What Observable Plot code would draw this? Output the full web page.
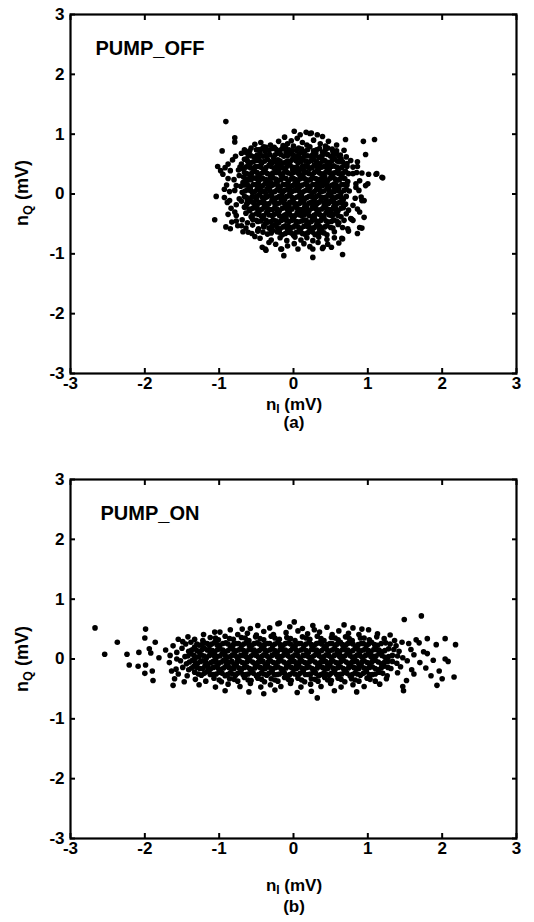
<!DOCTYPE html>
<html><head><meta charset="utf-8">
<script src="https://cdn.jsdelivr.net/npm/d3@7"></script>
<script src="https://cdn.jsdelivr.net/npm/@observablehq/plot@0.6"></script>
<style>
body{margin:0;background:#fff;font-family:"Liberation Sans",Arial,sans-serif;}
#wrap{position:relative;width:534px;height:922px;overflow:hidden;}
.pl{position:absolute;left:0;}
.lbl{position:absolute;font-weight:bold;color:#000;white-space:nowrap;transform:translate(-50%,-50%);line-height:1;}
.lbl sub{font-size:70%;vertical-align:-0.3em;line-height:0;}
.rot{transform:translate(-50%,-50%) rotate(-90deg);}
</style></head>
<body><div id="wrap"></div>
<script>
const xTicks = [-3, -2, -1, 0, 1, 2, 3];
const yTicks = [-3, -2, -1, 0, 1, 2, 3];
const panelNames = ["PUMP_OFF", "PUMP_ON"];
const panelTags = ["(a)", "(b)"];

// (nI, nQ) in mV
const pumpOff = [
[-0.91,1.21],[-0.79,0.94],[-0.79,0.87],[-0.96,0.72],[-1.04,-0.04],[-1.06,-0.43],[-0.93,0.08],[-0.91,-0.55],[-0.85,-0.58],
[-0.42,-0.89],[-0.38,-0.92],[-0.13,-1.03],[0.26,-1.06],[0.66,-1.01],[0.01,1.05],[0.17,1.03],[0.24,1.02],[0.32,0.99],
[0.39,0.96],[0.70,0.91],[0.94,0.88],[1.09,0.91],[0.97,0.66],[1.20,0.27],[1.11,0.33],[1.01,0.33],[0.92,0.35],[0.91,-0.05],
[0.92,-0.11],[0.95,-0.39],[0.92,-0.57],[0.78,-0.42],[0.65,-0.74],[0.61,-0.82],[0.51,-0.89],[0.40,-0.89],[0.06,-0.92],
[0.01,-0.83],[-0.17,-0.92],[-1.02,0.46],[-0.98,0.39],[-0.88,0.50],[-0.85,0.39],[-0.66,0.74],[-0.59,0.72],[-0.63,0.59],
[-0.72,0.45],[-0.70,0.50],[-0.80,0.24],[-0.77,0.14],[-0.79,0.06],[-0.86,-0.11],[-0.77,-0.18],[-0.79,-0.30],[-0.77,-0.36],
[-0.70,-0.53],[-0.68,-0.63],[-0.61,-0.64],[-0.77,-0.45],[-0.37,-0.94],[-0.16,-0.92],[-0.37,0.78],[-0.26,0.78],[-0.14,0.81],
[-0.03,0.89],[-0.48,-0.61],[-0.41,-0.64],[-0.28,-0.61],[0.22,1.01],[0.43,0.80],[0.53,0.71],[0.68,0.73],[0.64,0.59],
[0.77,0.56],[0.86,0.54],[0.80,0.45],[0.80,0.34],[1.12,0.34],[1.19,0.28],[1.00,0.17],[0.97,0.14],[0.84,0.11],[0.95,-0.11],
[0.80,-0.19],[0.86,-0.25],[0.89,-0.30],[0.77,-0.41],[0.80,-0.44],[0.89,-0.56],[0.86,-0.66],[0.66,-0.56],[0.73,-0.58],
[0.66,-0.75],[0.39,-0.91],[0.26,-0.92],[0.33,-0.81],
[-0.52,0.83],[-0.44,0.86],[-0.31,0.82],[-0.20,0.88],[-0.08,0.84],[0.05,0.93],[0.12,0.86],[0.27,0.90],[0.36,0.84],
[0.47,0.88],[0.58,0.82],[-0.12,0.95],[0.09,0.99],
[-0.57,0.77],[-0.47,0.74],[-0.38,0.71],[-0.29,0.76],[-0.18,0.73],[-0.11,0.78],[-0.02,0.72],[0.07,0.77],[0.15,0.71],
[0.22,0.79],[0.31,0.74],[0.39,0.70],[0.46,0.77],[0.58,0.72],[-0.65,0.70],[0.00,0.80],[0.18,0.82],[-0.40,0.79],
[-0.78,0.63],[-0.61,0.66],[-0.53,0.62],[-0.45,0.68],[-0.36,0.64],[-0.27,0.61],[-0.22,0.68],[-0.13,0.63],[-0.05,0.67],
[0.03,0.62],[0.10,0.69],[0.19,0.64],[0.26,0.66],[0.34,0.61],[0.41,0.67],[0.50,0.63],[0.57,0.68],[0.71,0.62],[-0.70,0.68],
[0.63,0.65],[-0.10,0.70],[0.30,0.69],
[-0.82,0.57],[-0.66,0.58],[-0.58,0.52],[-0.50,0.56],[-0.43,0.51],[-0.35,0.58],[-0.28,0.53],[-0.21,0.57],[-0.15,0.51],
[-0.08,0.55],[-0.01,0.59],[0.06,0.52],[0.13,0.57],[0.20,0.53],[0.27,0.58],[0.35,0.51],[0.42,0.56],[0.49,0.52],[0.55,0.59],
[0.62,0.54],[0.72,0.51],[-0.47,0.60],[0.09,0.60],[-0.31,0.50],[0.38,0.60],
[-0.92,0.44],[-0.68,0.42],[-0.61,0.48],[-0.55,0.43],[-0.47,0.46],[-0.40,0.41],[-0.33,0.48],[-0.26,0.43],[-0.19,0.47],
[-0.12,0.42],[-0.05,0.49],[0.02,0.44],[0.08,0.41],[0.15,0.47],[0.22,0.43],[0.28,0.49],[0.34,0.42],[0.41,0.46],[0.48,0.41],
[0.54,0.47],[0.61,0.43],[0.68,0.48],[0.86,0.46],[-0.74,0.40],[-0.01,0.40],[0.45,0.50],[-0.22,0.50],
[-0.95,0.33],[-0.73,0.31],[-0.66,0.36],[-0.59,0.32],[-0.52,0.38],[-0.45,0.33],[-0.38,0.37],[-0.31,0.31],[-0.24,0.36],
[-0.17,0.32],[-0.10,0.38],[-0.03,0.33],[0.04,0.37],[0.11,0.31],[0.18,0.36],[0.25,0.32],[0.31,0.38],[0.38,0.33],[0.44,0.37],
[0.51,0.31],[0.57,0.36],[0.64,0.32],[0.70,0.38],[0.85,0.36],[-0.48,0.29],[0.14,0.39],[-0.20,0.39],[0.60,0.39],
[-0.88,0.26],[-0.67,0.28],[-0.61,0.23],[-0.54,0.27],[-0.47,0.21],[-0.41,0.26],[-0.34,0.22],[-0.28,0.28],[-0.21,0.23],
[-0.14,0.27],[-0.07,0.21],[0.00,0.26],[0.06,0.22],[0.13,0.28],[0.20,0.23],[0.26,0.27],[0.33,0.21],[0.39,0.26],[0.46,0.22],
[0.53,0.28],[0.59,0.23],[0.66,0.27],[0.73,0.21],[0.89,0.22],[-0.58,0.29],[0.09,0.29],[0.42,0.29],[-0.31,0.20],
[-0.90,0.15],[-0.71,0.13],[-0.64,0.17],[-0.58,0.11],[-0.51,0.16],[-0.44,0.12],[-0.38,0.18],[-0.31,0.13],[-0.25,0.17],
[-0.18,0.11],[-0.11,0.16],[-0.04,0.12],[0.02,0.18],[0.09,0.13],[0.16,0.17],[0.22,0.11],[0.29,0.16],[0.35,0.12],[0.42,0.18],
[0.48,0.13],[0.55,0.17],[0.61,0.11],[0.68,0.16],[0.84,0.17],[-0.68,0.19],[0.05,0.10],[0.38,0.20],[-0.22,0.20],
[-0.86,0.04],[-0.69,0.03],[-0.62,0.07],[-0.55,0.02],[-0.49,0.08],[-0.42,0.04],[-0.35,0.09],[-0.29,0.03],[-0.22,0.07],
[-0.15,0.02],[-0.08,0.08],[-0.02,0.04],[0.05,0.09],[0.12,0.03],[0.18,0.07],[0.25,0.01],[0.31,0.08],[0.38,0.04],[0.45,0.09],
[0.51,0.03],[0.58,0.07],[0.64,0.02],[0.71,0.08],[0.88,0.06],[-0.37,0.00],[0.22,0.10],[-0.05,0.00],[0.55,0.10],
[-0.93,-0.06],[-0.73,-0.08],[-0.66,-0.04],[-0.59,-0.09],[-0.52,-0.05],[-0.46,-0.01],[-0.39,-0.07],[-0.32,-0.03],[-0.25,-0.08],
[-0.19,-0.04],[-0.12,-0.09],[-0.05,-0.02],[0.01,-0.07],[0.08,-0.03],[0.15,-0.08],[0.21,-0.04],[0.28,-0.09],[0.34,-0.02],
[0.41,-0.06],[0.47,-0.01],[0.54,-0.08],[0.60,-0.04],[0.67,-0.09],[0.83,-0.07],[-0.62,-0.10],[0.10,-0.10],[0.44,-0.10],[-0.16,-0.10],
[-0.89,-0.14],[-0.70,-0.12],[-0.63,-0.17],[-0.56,-0.13],[-0.49,-0.19],[-0.43,-0.14],[-0.36,-0.18],[-0.29,-0.11],[-0.22,-0.16],
[-0.15,-0.12],[-0.09,-0.18],[-0.02,-0.13],[0.04,-0.17],[0.11,-0.12],[0.18,-0.19],[0.24,-0.14],[0.31,-0.17],[0.37,-0.11],
[0.44,-0.16],[0.50,-0.12],[0.57,-0.18],[0.63,-0.13],[0.70,-0.17],[-0.50,-0.10],[0.26,-0.20],[-0.06,-0.20],
[-0.84,-0.24],[-0.66,-0.22],[-0.59,-0.28],[-0.52,-0.23],[-0.45,-0.27],[-0.39,-0.21],[-0.32,-0.26],[-0.25,-0.22],[-0.19,-0.28],
[-0.12,-0.23],[-0.05,-0.27],[0.02,-0.21],[0.08,-0.26],[0.15,-0.22],[0.21,-0.28],[0.28,-0.23],[0.34,-0.27],[0.41,-0.21],
[0.47,-0.26],[0.54,-0.22],[0.60,-0.28],[0.67,-0.23],[0.74,-0.27],[-0.35,-0.30],[0.12,-0.30],[0.50,-0.30],
[-0.88,-0.34],[-0.64,-0.32],[-0.57,-0.38],[-0.50,-0.33],[-0.43,-0.37],[-0.36,-0.31],[-0.29,-0.36],[-0.22,-0.32],[-0.16,-0.38],
[-0.09,-0.33],[-0.02,-0.37],[0.05,-0.31],[0.11,-0.36],[0.18,-0.32],[0.25,-0.38],[0.31,-0.33],[0.38,-0.37],[0.44,-0.31],
[0.51,-0.36],[0.57,-0.32],[0.64,-0.38],[0.71,-0.33],[-0.10,-0.40],[0.28,-0.40],
[-0.83,-0.47],[-0.69,-0.43],[-0.62,-0.48],[-0.55,-0.42],[-0.48,-0.46],[-0.41,-0.41],[-0.34,-0.47],[-0.27,-0.43],[-0.20,-0.48],
[-0.13,-0.42],[-0.06,-0.46],[0.00,-0.41],[0.07,-0.47],[0.14,-0.43],[0.21,-0.48],[0.27,-0.42],[0.34,-0.46],[0.41,-0.41],
[0.47,-0.47],[0.54,-0.43],[0.61,-0.48],[0.68,-0.44],[-0.38,-0.50],[0.18,-0.50],
[-0.75,-0.53],[-0.64,-0.57],[-0.55,-0.52],[-0.47,-0.58],[-0.40,-0.53],[-0.33,-0.57],[-0.25,-0.52],[-0.18,-0.58],[-0.11,-0.53],
[-0.04,-0.57],[0.03,-0.52],[0.10,-0.58],[0.17,-0.53],[0.24,-0.57],[0.31,-0.52],[0.38,-0.58],[0.45,-0.53],[0.53,-0.57],
[0.60,-0.51],[-0.08,-0.60],[0.35,-0.60],
[-0.56,-0.66],[-0.48,-0.62],[-0.35,-0.67],[-0.22,-0.63],[-0.15,-0.68],[-0.07,-0.64],[0.00,-0.69],[0.08,-0.63],[0.15,-0.67],
[0.22,-0.62],[0.29,-0.68],[0.37,-0.64],[0.45,-0.68],[0.55,-0.63],[0.74,-0.62],[-0.30,-0.61],
[-0.45,-0.74],[-0.30,-0.77],[-0.18,-0.73],[-0.09,-0.78],[0.02,-0.72],[0.10,-0.77],[0.18,-0.73],[0.26,-0.78],[0.34,-0.72],
[0.45,-0.76],[0.55,-0.73],[-0.52,-0.71],
[-0.24,-0.84],[-0.08,-0.87],[0.14,-0.83],[0.22,-0.88],[0.46,-0.84],[-0.33,-0.81],
// dense core of panel (a)
[-0.50,0.74],[-0.43,0.75],[-0.33,0.73],[-0.24,0.75],[-0.15,0.76],[-0.06,0.74],[0.04,0.73],[0.11,0.75],[0.19,0.74],[0.27,0.72],[0.35,0.76],[0.43,0.74],[0.52,0.75],
[-0.57,0.64],[-0.49,0.65],[-0.41,0.63],[-0.32,0.66],[-0.25,0.65],[-0.17,0.66],[-0.08,0.64],[0.00,0.65],[0.07,0.66],[0.15,0.64],[0.23,0.63],[0.30,0.65],[0.38,0.64],[0.46,0.66],[0.54,0.65],[0.61,0.63],
[-0.62,0.55],[-0.54,0.54],[-0.46,0.56],[-0.39,0.55],[-0.31,0.54],[-0.24,0.56],[-0.18,0.55],[-0.11,0.53],[-0.04,0.55],[0.03,0.56],[0.10,0.54],[0.17,0.55],[0.24,0.56],[0.31,0.54],[0.39,0.55],[0.46,0.53],[0.52,0.56],[0.59,0.55],[0.66,0.54],
[-0.64,0.45],[-0.58,0.44],[-0.51,0.46],[-0.44,0.45],[-0.37,0.44],[-0.30,0.46],[-0.23,0.45],[-0.16,0.44],[-0.09,0.46],[-0.02,0.45],[0.05,0.44],[0.12,0.46],[0.19,0.45],[0.25,0.44],[0.31,0.46],[0.38,0.45],[0.45,0.44],[0.51,0.46],[0.58,0.45],[0.65,0.44],[0.72,0.46],
[-0.63,0.34],[-0.56,0.35],[-0.49,0.36],[-0.42,0.35],[-0.35,0.34],[-0.28,0.35],[-0.21,0.36],[-0.14,0.34],[-0.07,0.35],[0.00,0.36],[0.07,0.34],[0.14,0.35],[0.21,0.34],[0.28,0.36],[0.35,0.35],[0.41,0.34],[0.48,0.36],[0.54,0.35],[0.61,0.34],[0.67,0.35],[0.74,0.34],
[-0.64,0.25],[-0.57,0.24],[-0.50,0.26],[-0.44,0.25],[-0.37,0.24],[-0.31,0.26],[-0.24,0.25],[-0.17,0.24],[-0.10,0.26],[-0.03,0.25],[0.03,0.24],[0.10,0.26],[0.16,0.25],[0.23,0.24],[0.30,0.26],[0.36,0.25],[0.43,0.24],[0.49,0.26],[0.56,0.25],[0.62,0.24],[0.69,0.26],
[-0.66,0.15],[-0.61,0.14],[-0.54,0.16],[-0.47,0.15],[-0.41,0.14],[-0.34,0.16],[-0.28,0.15],[-0.21,0.14],[-0.14,0.16],[-0.07,0.15],[-0.01,0.14],[0.06,0.16],[0.12,0.15],[0.19,0.14],[0.26,0.16],[0.32,0.15],[0.39,0.14],[0.45,0.16],[0.52,0.15],[0.58,0.14],[0.65,0.16],[0.72,0.15],
[-0.65,0.05],[-0.58,0.06],[-0.52,0.04],[-0.45,0.06],[-0.39,0.05],[-0.32,0.06],[-0.25,0.04],[-0.18,0.05],[-0.12,0.06],[-0.05,0.05],[0.02,0.06],[0.08,0.04],[0.15,0.05],[0.21,0.06],[0.28,0.04],[0.35,0.06],[0.41,0.05],[0.48,0.06],[0.55,0.04],[0.61,0.05],[0.68,0.06],[0.75,0.05],
[-0.63,-0.06],[-0.56,-0.05],[-0.49,-0.04],[-0.42,-0.06],[-0.36,-0.05],[-0.29,-0.04],[-0.22,-0.06],[-0.15,-0.05],[-0.09,-0.04],[-0.02,-0.06],[0.05,-0.05],[0.11,-0.04],[0.18,-0.06],[0.25,-0.05],[0.31,-0.04],[0.38,-0.06],[0.44,-0.05],[0.51,-0.04],[0.57,-0.06],[0.64,-0.05],[0.71,-0.04],
[-0.62,-0.15],[-0.53,-0.16],[-0.46,-0.14],[-0.39,-0.15],[-0.33,-0.16],[-0.26,-0.14],[-0.19,-0.15],[-0.12,-0.16],[-0.05,-0.14],[0.01,-0.15],[0.08,-0.16],[0.14,-0.14],[0.21,-0.15],[0.28,-0.16],[0.34,-0.14],[0.41,-0.15],[0.47,-0.16],[0.54,-0.14],[0.60,-0.15],[0.66,-0.16],
[-0.60,-0.25],[-0.55,-0.24],[-0.48,-0.26],[-0.42,-0.25],[-0.35,-0.24],[-0.28,-0.26],[-0.22,-0.25],[-0.15,-0.24],[-0.08,-0.26],[-0.02,-0.25],[0.05,-0.24],[0.12,-0.26],[0.18,-0.25],[0.25,-0.24],[0.31,-0.26],[0.38,-0.25],[0.44,-0.24],[0.51,-0.26],[0.57,-0.25],[0.64,-0.24],
[-0.55,-0.35],[-0.47,-0.34],[-0.40,-0.36],[-0.33,-0.35],[-0.26,-0.34],[-0.19,-0.36],[-0.12,-0.35],[-0.05,-0.34],[0.02,-0.36],[0.08,-0.35],[0.15,-0.34],[0.21,-0.36],[0.28,-0.35],[0.35,-0.34],[0.41,-0.36],[0.48,-0.35],[0.54,-0.34],[0.60,-0.36],
[-0.50,-0.44],[-0.44,-0.45],[-0.37,-0.44],[-0.30,-0.46],[-0.23,-0.45],[-0.16,-0.44],[-0.09,-0.45],[-0.02,-0.44],[0.04,-0.46],[0.11,-0.45],[0.17,-0.44],[0.24,-0.46],[0.31,-0.45],[0.37,-0.44],[0.44,-0.45],[0.51,-0.46],[0.58,-0.45],
[-0.40,-0.55],[-0.29,-0.54],[-0.22,-0.56],[-0.14,-0.55],[-0.07,-0.54],[0.00,-0.55],[0.07,-0.56],[0.14,-0.54],[0.20,-0.55],[0.28,-0.56],[0.35,-0.54],[0.42,-0.55],[0.50,-0.56],
[-0.30,-0.65],[-0.19,-0.64],[-0.11,-0.66],[-0.03,-0.65],[0.04,-0.64],[0.12,-0.66],[0.19,-0.65],[0.26,-0.64],[0.33,-0.66],[0.41,-0.65]
];

// (nI, nQ) in mV
const pumpOn = [
[-0.73,0.64],[1.49,0.66],[1.72,0.72],[0.01,0.62],[-0.19,0.60],
[-2.67,0.52],[-1.99,0.50],[-0.69,0.50],[-0.48,0.56],[-0.32,0.52],[-0.21,0.59],[0.26,0.56],[0.68,0.57],[0.80,0.52],
[0.45,0.53],[-0.05,0.54],[0.12,0.51],[0.92,0.50],[-0.58,0.51],
[-1.06,0.45],[-0.99,0.45],[-0.85,0.49],[1.01,0.49],[1.13,0.42],[-1.21,0.41],[-0.62,0.43],[-0.40,0.46],[-0.27,0.41],
[-0.10,0.44],[0.06,0.47],[0.19,0.42],[0.35,0.45],[0.52,0.41],[0.61,0.47],[0.74,0.43],[0.88,0.41],[-0.75,0.41],[0.28,0.49],
[-0.50,0.40],[1.30,0.40],
[-2.00,0.35],[-1.55,0.33],[-1.49,0.29],[-1.33,0.33],[1.22,0.34],[1.80,0.34],[2.04,0.34],[1.65,0.32],[-1.42,0.37],
[-1.22,0.31],[-1.12,0.36],[-1.01,0.32],[-0.92,0.38],[-0.81,0.33],[-0.70,0.36],[-0.60,0.31],[-0.51,0.37],[-0.40,0.32],
[-0.30,0.38],[-0.19,0.33],[-0.09,0.36],[0.02,0.31],[0.12,0.37],[0.22,0.33],[0.32,0.38],[0.41,0.31],[0.51,0.36],[0.60,0.32],
[0.70,0.37],[0.79,0.31],[0.90,0.35],[1.02,0.32],[1.12,0.37],[1.36,0.31],
[-2.37,0.28],[-1.86,0.28],[-1.33,0.20],[1.92,0.24],[1.69,0.27],[1.55,0.26],[2.18,0.24],[-1.62,0.22],[-1.45,0.25],
[-1.38,0.28],[-1.27,0.23],[-1.20,0.27],[-1.13,0.22],[-1.06,0.28],[-0.99,0.23],[-0.91,0.27],[-0.84,0.21],[-0.77,0.26],
[-0.70,0.22],[-0.63,0.28],[-0.56,0.23],[-0.49,0.27],[-0.42,0.21],[-0.35,0.26],[-0.28,0.22],[-0.21,0.28],[-0.14,0.23],
[-0.07,0.27],[0.00,0.21],[0.07,0.26],[0.14,0.22],[0.21,0.28],[0.28,0.23],[0.35,0.27],[0.42,0.21],[0.49,0.26],[0.56,0.22],
[0.63,0.28],[0.70,0.23],[0.77,0.27],[0.84,0.21],[0.91,0.26],[0.98,0.22],[1.05,0.28],[1.13,0.23],[1.24,0.27],[1.38,0.22],[1.46,0.28],
[-2.08,0.11],[-1.94,0.17],[-1.92,0.10],[-1.57,0.11],[-1.72,0.15],[-1.50,0.18],[-1.41,0.13],[-1.34,0.17],[-1.27,0.12],
[-1.20,0.18],[-1.13,0.14],[-1.06,0.11],[-0.99,0.17],[-0.92,0.12],[-0.85,0.18],[-0.78,0.13],[-0.71,0.17],[-0.64,0.11],
[-0.57,0.16],[-0.50,0.12],[-0.43,0.18],[-0.36,0.13],[-0.29,0.17],[-0.22,0.11],[-0.15,0.16],[-0.08,0.12],[-0.01,0.18],
[0.06,0.13],[0.13,0.17],[0.20,0.11],[0.27,0.16],[0.34,0.12],[0.41,0.18],[0.48,0.13],[0.55,0.17],[0.62,0.11],[0.69,0.16],
[0.76,0.12],[0.83,0.18],[0.90,0.13],[0.97,0.17],[1.04,0.11],[1.11,0.16],[1.19,0.12],[1.28,0.17],[1.42,0.13],[1.58,0.16],[1.75,0.12],
[-2.54,0.08],[-2.24,0.08],[-1.81,0.02],[-1.57,0.00],[1.80,0.09],[2.04,0.00],[-1.66,0.06],[-1.46,0.04],[-1.38,0.09],
[-1.31,0.03],[-1.24,0.07],[-1.17,0.02],[-1.10,0.08],[-1.03,0.04],[-0.96,0.09],[-0.89,0.03],[-0.82,0.07],[-0.75,0.01],
[-0.68,0.06],[-0.61,0.02],[-0.54,0.08],[-0.47,0.03],[-0.40,0.07],[-0.33,0.02],[-0.26,0.08],[-0.19,0.04],[-0.12,0.09],
[-0.05,0.03],[0.02,0.07],[0.09,0.01],[0.16,0.06],[0.23,0.02],[0.30,0.08],[0.37,0.03],[0.44,0.07],[0.51,0.02],[0.58,0.08],
[0.65,0.04],[0.72,0.09],[0.79,0.03],[0.86,0.07],[0.93,0.02],[1.00,0.08],[1.07,0.04],[1.15,0.09],[1.23,0.03],[1.33,0.06],
[1.47,0.02],[1.62,0.07],
[-2.21,-0.10],[-1.99,-0.10],[-1.67,-0.06],[2.08,-0.04],[-1.52,-0.03],[-1.44,-0.08],[-1.36,-0.02],[-1.29,-0.07],[-1.22,-0.03],
[-1.15,-0.09],[-1.08,-0.04],[-1.01,-0.08],[-0.94,-0.02],[-0.87,-0.06],[-0.80,-0.09],[-0.73,-0.03],[-0.66,-0.07],[-0.59,-0.02],
[-0.52,-0.08],[-0.45,-0.04],[-0.38,-0.09],[-0.31,-0.03],[-0.24,-0.07],[-0.17,-0.02],[-0.10,-0.08],[-0.03,-0.04],[0.04,-0.09],
[0.11,-0.03],[0.18,-0.07],[0.25,-0.02],[0.32,-0.08],[0.39,-0.04],[0.46,-0.09],[0.53,-0.03],[0.60,-0.07],[0.67,-0.02],
[0.74,-0.08],[0.81,-0.04],[0.88,-0.09],[0.95,-0.03],[1.02,-0.07],[1.10,-0.02],[1.18,-0.08],[1.27,-0.04],[1.39,-0.07],
[1.53,-0.03],[1.70,-0.06],[1.88,-0.02],
[-2.09,-0.12],[-1.90,-0.20],[-1.64,-0.20],[-1.49,-0.14],[1.96,-0.20],[1.78,-0.15],[-1.58,-0.17],[-1.41,-0.18],[-1.34,-0.12],
[-1.26,-0.16],[-1.19,-0.11],[-1.12,-0.17],[-1.05,-0.13],[-0.98,-0.18],[-0.91,-0.12],[-0.84,-0.16],[-0.77,-0.11],[-0.70,-0.17],
[-0.63,-0.13],[-0.56,-0.18],[-0.49,-0.12],[-0.42,-0.16],[-0.35,-0.11],[-0.28,-0.17],[-0.21,-0.13],[-0.14,-0.18],[-0.07,-0.12],
[0.00,-0.16],[0.07,-0.11],[0.14,-0.17],[0.21,-0.13],[0.28,-0.18],[0.35,-0.12],[0.42,-0.16],[0.49,-0.11],[0.56,-0.17],
[0.63,-0.13],[0.70,-0.18],[0.77,-0.12],[0.84,-0.16],[0.91,-0.11],[0.98,-0.17],[1.06,-0.13],[1.14,-0.18],[1.22,-0.12],
[1.31,-0.16],[1.44,-0.13],[1.59,-0.18],
[-2.00,-0.24],[-1.55,-0.25],[-1.43,-0.28],[-1.33,-0.22],[-1.24,-0.27],[-1.16,-0.21],[-1.08,-0.26],[-1.00,-0.22],[-0.92,-0.28],
[-0.85,-0.23],[-0.78,-0.27],[-0.71,-0.21],[-0.64,-0.26],[-0.57,-0.22],[-0.50,-0.28],[-0.43,-0.23],[-0.36,-0.27],[-0.29,-0.21],
[-0.22,-0.26],[-0.15,-0.22],[-0.08,-0.28],[-0.01,-0.23],[0.06,-0.27],[0.13,-0.21],[0.20,-0.26],[0.27,-0.22],[0.34,-0.28],
[0.41,-0.23],[0.48,-0.27],[0.55,-0.21],[0.62,-0.26],[0.69,-0.22],[0.76,-0.28],[0.83,-0.23],[0.90,-0.27],[0.98,-0.21],
[1.06,-0.26],[1.15,-0.22],[1.26,-0.28],[1.40,-0.23],[1.62,-0.25],[2.16,-0.30],[1.85,-0.28],
[-1.60,-0.33],[-1.47,-0.38],[-1.32,-0.34],[-1.18,-0.37],[-1.07,-0.32],[-0.97,-0.38],[-0.86,-0.33],[-0.75,-0.37],[-0.66,-0.31],
[-0.57,-0.36],[-0.48,-0.32],[-0.39,-0.38],[-0.30,-0.33],[-0.21,-0.37],[-0.12,-0.31],[-0.03,-0.36],[0.06,-0.32],[0.15,-0.38],
[0.24,-0.33],[0.33,-0.37],[0.42,-0.31],[0.51,-0.36],[0.60,-0.32],[0.69,-0.38],[0.78,-0.33],[0.88,-0.37],[0.99,-0.32],
[1.10,-0.37],[1.25,-0.33],[1.52,-0.36],[2.00,-0.33],[-1.89,-0.36],
[-1.62,-0.44],[-1.27,-0.43],[-1.05,-0.47],[-0.88,-0.42],[-0.72,-0.46],[-0.58,-0.41],[-0.44,-0.47],[-0.31,-0.43],[-0.17,-0.46],
[-0.04,-0.41],[0.10,-0.47],[0.23,-0.42],[0.37,-0.46],[0.50,-0.41],[0.64,-0.47],[0.80,-0.43],[0.95,-0.46],[1.16,-0.42],
[1.47,-0.46],[1.93,-0.44],
[-0.92,-0.53],[-0.60,-0.55],[-0.25,-0.52],[0.05,-0.56],[0.32,-0.65],[0.55,-0.53],[0.85,-0.55],[1.48,-0.53],[-0.40,-0.58],[0.24,-0.54],
// dense core of panel (b)
[-1.05,0.35],[-0.86,0.34],[-0.65,0.35],[-0.45,0.34],[-0.25,0.35],[-0.04,0.34],[0.17,0.35],[0.37,0.34],[0.56,0.35],[0.75,0.34],[0.95,0.35],
[-1.30,0.25],[-1.23,0.24],[-1.16,0.26],[-1.10,0.25],[-1.03,0.24],[-0.95,0.26],[-0.88,0.25],[-0.81,0.24],[-0.74,0.26],[-0.67,0.25],[-0.60,0.24],[-0.53,0.26],[-0.46,0.25],
[-0.39,0.24],[-0.32,0.26],[-0.25,0.25],[-0.18,0.24],[-0.11,0.26],[-0.04,0.25],[0.03,0.24],[0.10,0.26],[0.17,0.25],[0.24,0.24],[0.31,0.26],[0.38,0.25],[0.45,0.24],
[0.52,0.26],[0.59,0.25],[0.66,0.24],[0.73,0.26],[0.80,0.25],[0.87,0.24],[0.94,0.26],[1.01,0.25],[1.09,0.24],[1.18,0.26],[1.30,0.25],
[-1.37,0.15],[-1.30,0.14],[-1.23,0.16],[-1.16,0.15],[-1.09,0.14],[-1.02,0.16],[-0.95,0.15],[-0.88,0.14],[-0.81,0.16],[-0.74,0.15],[-0.67,0.14],[-0.60,0.16],[-0.53,0.15],
[-0.46,0.14],[-0.39,0.16],[-0.32,0.15],[-0.25,0.14],[-0.18,0.16],[-0.11,0.15],[-0.04,0.14],[0.03,0.16],[0.10,0.15],[0.17,0.14],[0.24,0.16],[0.31,0.15],[0.38,0.14],
[0.45,0.16],[0.52,0.15],[0.59,0.14],[0.66,0.16],[0.73,0.15],[0.80,0.14],[0.87,0.16],[0.94,0.15],[1.01,0.14],[1.08,0.16],[1.15,0.15],[1.23,0.14],[1.35,0.16],
[-1.42,0.05],[-1.34,0.06],[-1.27,0.04],[-1.20,0.05],[-1.13,0.06],[-1.06,0.04],[-0.99,0.05],[-0.92,0.06],[-0.85,0.04],[-0.78,0.05],[-0.71,0.06],[-0.64,0.04],[-0.57,0.05],
[-0.50,0.06],[-0.43,0.04],[-0.36,0.05],[-0.29,0.06],[-0.22,0.04],[-0.15,0.05],[-0.08,0.06],[-0.01,0.04],[0.06,0.05],[0.13,0.06],[0.20,0.04],[0.27,0.05],[0.34,0.06],
[0.41,0.04],[0.48,0.05],[0.55,0.06],[0.62,0.04],[0.69,0.05],[0.76,0.06],[0.83,0.04],[0.90,0.05],[0.97,0.06],[1.04,0.04],[1.11,0.05],[1.19,0.06],[1.28,0.04],[1.40,0.05],
[-1.40,-0.05],[-1.32,-0.06],[-1.25,-0.04],[-1.18,-0.05],[-1.11,-0.06],[-1.04,-0.04],[-0.97,-0.05],[-0.90,-0.06],[-0.83,-0.04],[-0.76,-0.05],[-0.69,-0.06],[-0.62,-0.04],
[-0.55,-0.05],[-0.48,-0.06],[-0.41,-0.04],[-0.34,-0.05],[-0.27,-0.06],[-0.20,-0.04],[-0.13,-0.05],[-0.06,-0.06],[0.01,-0.04],[0.08,-0.05],[0.15,-0.06],[0.22,-0.04],
[0.29,-0.05],[0.36,-0.06],[0.43,-0.04],[0.50,-0.05],[0.57,-0.06],[0.64,-0.04],[0.71,-0.05],[0.78,-0.06],[0.85,-0.04],[0.92,-0.05],[0.99,-0.06],[1.06,-0.04],[1.14,-0.05],
[1.22,-0.06],[1.33,-0.04],
[-1.37,-0.15],[-1.30,-0.14],[-1.22,-0.16],[-1.15,-0.15],[-1.08,-0.14],[-1.01,-0.16],[-0.94,-0.15],[-0.87,-0.14],[-0.80,-0.16],[-0.73,-0.15],[-0.66,-0.14],[-0.59,-0.16],
[-0.52,-0.15],[-0.45,-0.14],[-0.38,-0.16],[-0.31,-0.15],[-0.24,-0.14],[-0.17,-0.16],[-0.10,-0.15],[-0.03,-0.14],[0.04,-0.16],[0.11,-0.15],[0.18,-0.14],[0.25,-0.16],
[0.32,-0.15],[0.39,-0.14],[0.46,-0.16],[0.53,-0.15],[0.60,-0.14],[0.67,-0.16],[0.74,-0.15],[0.81,-0.14],[0.88,-0.16],[0.95,-0.15],[1.02,-0.14],[1.10,-0.16],[1.18,-0.15],[1.27,-0.14],
[-1.28,-0.25],[-1.20,-0.24],[-1.12,-0.26],[-1.04,-0.25],[-0.96,-0.24],[-0.89,-0.26],[-0.82,-0.25],[-0.75,-0.24],[-0.68,-0.26],[-0.61,-0.25],[-0.54,-0.24],[-0.47,-0.26],
[-0.40,-0.25],[-0.33,-0.24],[-0.26,-0.26],[-0.19,-0.25],[-0.12,-0.24],[-0.05,-0.26],[0.02,-0.25],[0.09,-0.24],[0.16,-0.26],[0.23,-0.25],[0.30,-0.24],[0.37,-0.26],
[0.44,-0.25],[0.51,-0.24],[0.58,-0.26],[0.65,-0.25],[0.72,-0.24],[0.79,-0.26],[0.86,-0.25],[0.94,-0.24],[1.02,-0.26],[1.10,-0.25],[1.20,-0.24],
[-1.00,-0.35],[-0.80,-0.34],[-0.61,-0.35],[-0.43,-0.34],[-0.25,-0.35],[-0.07,-0.34],[0.11,-0.35],[0.29,-0.34],[0.46,-0.35],[0.64,-0.34],[0.83,-0.35],[1.03,-0.34]
];

const FONT = '"Liberation Sans", Arial, sans-serif';

function panel(data, name, opts) {
  const fmt = d => String(d);
  return Plot.plot({
    width: 534,
    height: opts.height,
    marginLeft: 70, marginRight: 18, marginTop: opts.top, marginBottom: opts.bottom,
    style: {fontFamily: FONT, fontSize: "17px", fontWeight: "bold", color: "#000", background: "transparent", overflow: "visible"},
    x: {domain: [-3, 3]},
    y: {domain: [-3, 3]},
    marks: [
      Plot.dot(data, {x: d => d[0], y: d => d[1], r: 2.8, fill: "#000", stroke: "none"}),
      Plot.axisX(xTicks, {anchor: "bottom", tickSize: 0, tickPadding: 3, tickFormat: fmt, label: null}),
      Plot.axisY(yTicks, {anchor: "left", tickSize: 0, tickPadding: 6, tickFormat: fmt, label: null}),
      Plot.axisX(xTicks, {anchor: "bottom", tickSize: 5, dy: -5, strokeWidth: 2, fill: "none", label: null}),
      Plot.axisX(xTicks, {anchor: "top", tickSize: 5, dy: 5, strokeWidth: 2, fill: "none", label: null}),
      Plot.axisY(yTicks, {anchor: "left", tickSize: 5, dx: 5, strokeWidth: 2, fill: "none", label: null}),
      Plot.axisY(yTicks, {anchor: "right", tickSize: 5, dx: -5, strokeWidth: 2, fill: "none", label: null}),
      Plot.frame({stroke: "#000", strokeWidth: 2.2}),
      Plot.text([name], {frameAnchor: "top-left", dx: opts.nameDx, dy: 26, textAnchor: "start", lineAnchor: "top", fontSize: 20, fontWeight: "bold", fill: "#000", text: d => d})
    ]
  });
}

const wrap = document.getElementById("wrap");
const cfgs = [
  {top: 14, bottom: 87, height: 460, y0: 0, nameDx: 25, xlab: 404, tag: 422, ylab: 193},
  {top: 19, bottom: 84, height: 462, y0: 460, nameDx: 30, xlab: 885, tag: 906, ylab: 659}
];
[pumpOff, pumpOn].forEach((data, i) => {
  const c = cfgs[i];
  const svg = panel(data, panelNames[i], c);
  svg.classList.add("pl");
  svg.style.top = c.y0 + "px";
  wrap.appendChild(svg);
  const xl = document.createElement("div");
  xl.className = "lbl"; xl.style.left = "294px"; xl.style.top = c.xlab + "px"; xl.style.fontSize = "17px";
  xl.innerHTML = "n<sub>I</sub> (mV)";
  wrap.appendChild(xl);
  const tg = document.createElement("div");
  tg.className = "lbl"; tg.style.left = "294px"; tg.style.top = c.tag + "px"; tg.style.fontSize = "17px";
  tg.textContent = panelTags[i];
  wrap.appendChild(tg);
  const yl = document.createElement("div");
  yl.className = "lbl rot"; yl.style.left = "22px"; yl.style.top = c.ylab + "px"; yl.style.fontSize = "18px";
  yl.innerHTML = "n<sub>Q</sub> (mV)";
  wrap.appendChild(yl);
});
</script>
</body></html>
